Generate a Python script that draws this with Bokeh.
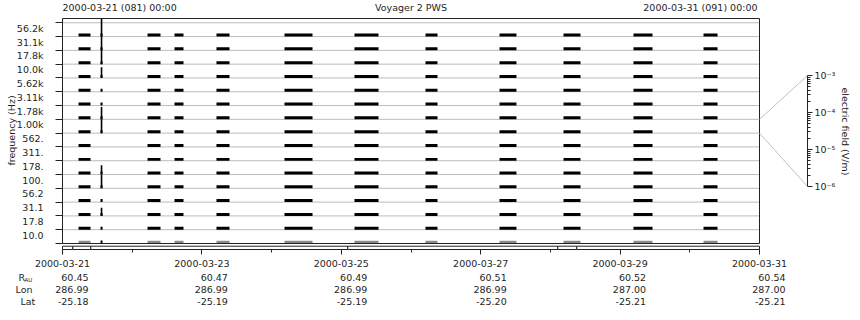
import math
from bokeh.plotting import figure
from bokeh.models import Range1d, FixedTicker, LinearAxis
from bokeh.core.properties import value
from bokeh.embed import file_html
from bokeh.resources import INLINE

# ---------------- data ----------------
channels = ["10.0", "17.8", "31.1", "56.2", "100.", "178.", "311.", "562.",
            "1.00k", "1.78k", "3.11k", "5.62k", "10.0k", "17.8k", "31.1k", "56.2k"]

# observation intervals (days after 2000-03-21 00:00)
obs_start = [0.230, 1.220, 1.607, 2.209, 3.185, 4.189, 5.208, 6.270, 7.188, 8.192, 9.197]
obs_end = [0.402, 1.406, 1.736, 2.396, 3.587, 4.534, 5.380, 6.513, 7.432, 8.465, 9.398]

# noise band upper level per channel (V/m); the bottom of each row is 1e-6
noise_top = [4.2e-6, 4.5e-6, 4.5e-6, 4.5e-6, 4.5e-6, 4.5e-6, 4.0e-6, 4.3e-6,
             4.5e-6, 4.5e-6, 4.5e-6, 4.5e-6, 4.5e-6, 4.5e-6, 4.5e-6, 4.5e-6]

# short burst near day 0.56: peak field per channel (nan = no data)
burst_start = 0.545
burst_end = 0.575
burst_time = 0.560
nan = float("nan")
burst_peak = [4.5e-6, 4.5e-6, 6.0e-5, 4.5e-6, 8.0e-4, 1.0e-4, nan, nan,
              1.1e-3, 4.7e-4, 4.5e-6, 4.5e-6, 2.1e-4, 1.2e-3, 1.2e-3, 1.0e-2]

# instrument mode strip boundaries (days)
mode_edges = [0.0, 0.148, 0.406, 4.093, 7.106, 7.378, 10.0]

tick_days = [0, 2, 4, 6, 8, 10]
tick_dates = ["2000-03-21", "2000-03-23", "2000-03-25", "2000-03-27", "2000-03-29", "2000-03-31"]
r_au = ["60.45", "60.47", "60.49", "60.51", "60.52", "60.54"]
lon = ["286.99", "286.99", "286.99", "286.99", "287.00", "287.00"]
lat = ["-25.18", "-25.19", "-25.19", "-25.20", "-25.21", "-25.21"]

field_ticks = [-6, -5, -4, -3]
field_labels = ["10\u207b\u2076", "10\u207b\u2075", "10\u207b\u2074", "10\u207b\u00b3"]
scale_row = 8  # the 1.00k channel row is expanded on the right scale

# ---------------- geometry / style ----------------
W, H = 860, 320
FONT = "DejaVu Sans"
FS = "9.5px"
TXT = "#1e1e1e"
FRAME = "#222222"
GRID = "#bcbcbc"

LEFT, RIGHT = 62, 759       # day 0 / day 10 pixels
TOP, MAIN_BOT = 18, 243     # channel box
STRIP_TOP, AXIS_Y = 245.7, 249
TOP_PAD = 0.31
PPU = (MAIN_BOT - TOP) / (16 + TOP_PAD)
Y1 = 15.5 + TOP_PAD
PPX = (RIGHT - LEFT) / 10.0
LABEL_LIFT = 0.1            # channel labels sit slightly above row centres

SC_TOP, SC_BOT, SC_X = 75, 186, 807   # electric field scale (pixels)
DEC = (SC_BOT - SC_TOP) / 3.0


def px(x):
    return (x - LEFT) / PPX


def py(y):
    return Y1 - (y - TOP) / PPU


def pe(y):
    return -3 - (y - SC_TOP) / DEC


def row_y(ch, e):
    return ch - 0.5 + (math.log10(e) + 6.0) / 3.0


p = figure(width=W, height=H, min_border=0, x_range=Range1d(px(0), px(W)),
           y_range=Range1d(py(H), py(0)), x_axis_location=None, y_axis_location=None,
           toolbar_location=None, output_backend="svg", background_fill_color="white",
           border_fill_color="white")
p.outline_line_color = None
p.extra_y_ranges = {"ef": Range1d(pe(H), pe(0))}
p.xgrid.visible = False
p.ygrid.visible = False

# grid lines at channel boundaries
gy = [r + 0.5 for r in range(16)]
p.segment(x0=[0] * 16, x1=[10] * 16, y0=gy, y1=gy, line_color=GRID, line_width=1)

# noise bands
L, R, B, T, C = [], [], [], [], []
for t0, t1 in zip(obs_start, obs_end):
    for ch in range(16):
        L.append(t0); R.append(t1); B.append(ch - 0.5); T.append(row_y(ch, noise_top[ch]))
        C.append("#8a8a8a" if ch == 0 else "black")
for ch in range(16):
    if not math.isnan(burst_peak[ch]):
        L.append(burst_start); R.append(burst_end); B.append(ch - 0.5)
        T.append(row_y(ch, noise_top[ch])); C.append("#8a8a8a" if ch == 0 else "black")
p.quad(left=L, right=R, bottom=B, top=T, fill_color=C, line_color=None)

# burst spikes
sx, sy0, sy1 = [], [], []
for ch in range(16):
    pk = burst_peak[ch]
    if not math.isnan(pk) and pk > noise_top[ch]:
        sx.append(burst_time); sy0.append(ch - 0.5); sy1.append(min(row_y(ch, pk), Y1))
p.segment(x0=sx, y0=sy0, x1=sx, y1=sy1, line_color="black", line_width=1.6)

# channel box outline and mode strip
p.quad(left=[0], right=[10], bottom=[-0.5], top=[Y1], fill_color=None, line_color=FRAME, line_width=1)
p.quad(left=mode_edges[:-1], right=mode_edges[1:], bottom=py(AXIS_Y), top=py(STRIP_TOP),
       fill_color="white", line_color=FRAME, line_width=1)

# ---------------- left frequency axis ----------------
label_pos = [r + LABEL_LIFT for r in range(16)]
ya = LinearAxis(fixed_location=0,
                ticker=FixedTicker(ticks=label_pos, minor_ticks=[r - 0.5 for r in range(17)]))
ya.major_label_overrides = dict(zip(label_pos, channels))
ya.axis_line_color = None
ya.major_tick_out = 0
ya.major_tick_in = 0
ya.major_tick_line_color = None
ya.minor_tick_out = 7
ya.minor_tick_in = 0
ya.minor_tick_line_color = FRAME
ya.major_label_standoff = 12
ya.major_label_text_font = FONT
ya.major_label_text_font_size = FS
ya.major_label_text_color = TXT
p.add_layout(ya, "left")

# ---------------- bottom time axis ----------------
xa = LinearAxis(fixed_location=py(AXIS_Y),
                ticker=FixedTicker(ticks=tick_days, minor_ticks=[1, 3, 5, 7, 9]))
xa.major_label_overrides = dict(zip(tick_days, tick_dates))
xa.axis_line_color = None
xa.major_tick_out = 5
xa.major_tick_in = 0
xa.minor_tick_out = 3
xa.minor_tick_in = 0
xa.major_tick_line_color = FRAME
xa.minor_tick_line_color = FRAME
xa.major_label_standoff = 5
xa.major_label_text_font = FONT
xa.major_label_text_font_size = FS
xa.major_label_text_color = TXT
p.add_layout(xa, "below")

# ---------------- electric field scale ----------------
minor = []
for e in (-6, -5, -4):
    for k in range(2, 10):
        minor.append(e + math.log10(k))
ra = LinearAxis(y_range_name="ef", fixed_location=px(SC_X),
                ticker=FixedTicker(ticks=field_ticks, minor_ticks=minor))
ra.major_label_overrides = dict(zip(field_ticks, field_labels))
ra.axis_line_color = None
ra.major_tick_out = 5
ra.major_tick_in = 0
ra.minor_tick_out = 3
ra.minor_tick_in = 0
ra.major_tick_line_color = FRAME
ra.minor_tick_line_color = FRAME
ra.major_label_standoff = 2
ra.major_label_text_font = FONT
ra.major_label_text_font_size = FS
ra.major_label_text_color = TXT
p.add_layout(ra, "right")

x_sc = px(SC_X)
p.segment(x0=[x_sc], x1=[x_sc], y0=[-3], y1=[-6], y_range_name="ef", line_color=FRAME, line_width=1)
e_top = pe(TOP + (Y1 - (scale_row + 0.5)) * PPU)
e_bot = pe(TOP + (Y1 - (scale_row - 0.5)) * PPU)
p.segment(x0=[10, 10], y0=[e_top, e_bot], x1=[x_sc, x_sc], y1=[-3, -6], y_range_name="ef",
          line_color="#c0c0c0", line_width=1)

# ---------------- texts ----------------
def txt(x, y, t, align="left", size=FS, angle=0.0, xoff=0):
    p.text(x=x, y=y, text=t, angle=angle, x_offset=xoff, text_align=value(align),
           text_baseline=value("middle"), text_font=value(FONT), text_font_size=value(size),
           text_color=TXT)


txt([0], [py(7)], ["2000-03-21 (081) 00:00"], "left")
txt([5], [py(7)], ["Voyager 2 PWS"], "center")
txt([10], [py(7)], ["2000-03-31 (091) 00:00"], "right", xoff=-2)

txt([px(11)], [py(130)], ["frequency (Hz)"], "center", angle=math.pi / 2)
txt([px(845)], [py(131)], ["electric field (V/m)"], "center", angle=-math.pi / 2)

for vals, cy in ((r_au, 276.7), (lon, 288.7), (lat, 300.7)):
    txt(tick_days, [py(cy)] * len(tick_days), vals, "right", xoff=26)

txt([px(18)], [py(276.5)], ["R"], "left")
txt([px(24)], [py(279.5)], ["AU"], "left", size="5.5px")
txt([px(15)], [py(288.7)], ["Lon"], "left")
txt([px(20)], [py(300.7)], ["Lat"], "left")

open("out.html", "w").write(file_html(p, INLINE))
